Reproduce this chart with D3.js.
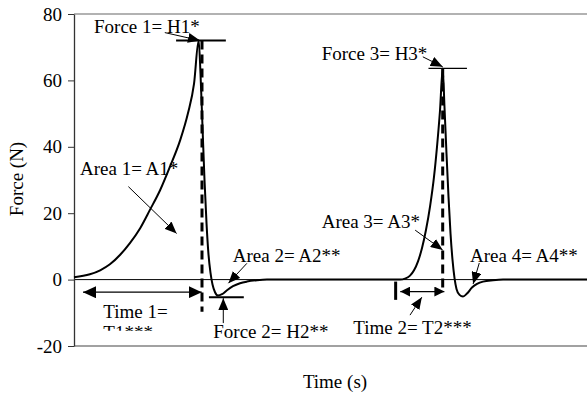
<!DOCTYPE html>
<html lang="en">
<head>
    <meta charset="UTF-8">
    <title>Force - time curve</title>
    <script src="https://d3js.org/d3.v7.min.js"></script>
    <style>
        body { margin: 0; background: #fff; }
        text { font-family: "Liberation Serif", "Times New Roman", serif; font-size: 19px; fill: #000; }
    </style>
</head>
<body>
    <svg width="587" height="393"></svg>

    <script>
        // Force trace (time in s, force in N)
        const traceTime = [
            0, 0.31, 0.51, 0.70, 0.90, 1.09, 1.29, 1.48, 1.68, 1.87, 2.07, 2.22, 2.34, 2.43,
            2.466, 2.505, 2.544, 2.583, 2.622, 2.661, 2.70, 2.749, 2.807, 2.885, 2.982, 3.099,
            3.236, 3.372, 3.567, 3.762,
            6.355, 6.452, 6.55, 6.628, 6.706, 6.784, 6.862, 6.94, 7.018, 7.076, 7.135, 7.187,
            7.222, 7.261, 7.30, 7.339, 7.378, 7.417, 7.456, 7.515, 7.583, 7.661, 7.758, 7.856,
            7.973, 8.168, 8.363, 10
        ];
        const traceForce = [
            0.7, 1.6, 2.8, 4.6, 7.5, 11, 15.5, 21, 27, 34, 42, 50, 59, 72,
            62, 46, 30, 17, 7.5, 2, -1.5, -3.8, -4.8, -4.4, -3.2, -2.0,
            -1.1, -0.6, -0.2, 0,
            0, 0.3, 1.2, 2.8, 5.5, 9.5, 15, 22, 31, 40, 51, 63.6,
            52, 38, 25, 14, 6, 0.5, -2.8, -4.6, -5.1, -4.2, -2.4, -1.3,
            -0.6, -0.2, 0, 0
        ];
        const yTicks = [-20, 0, 20, 40, 60, 80];

        // Annotation texts
        const labelText = [
            "Force 1= H1*", "Area 1= A1*", "Area 2= A2**", "Time 1=", "T1***",
            "Force 2= H2**", "Force 3= H3*", "Area 3= A3*", "Area 4= A4**", "Time 2= T2***"
        ];

        const trace = traceTime.map((t, i) => ({ t: t, f: traceForce[i] }));

        const margin = { top: 14, right: 0, bottom: 47, left: 74 };
        const W = 587, H = 393;
        const width = W - margin.left - margin.right;
        const height = H - margin.top - margin.bottom;

        const svg = d3.select("svg");
        const g = svg.append("g")
            .attr("transform", `translate(${margin.left},${margin.top})`);

        const x = d3.scaleLinear().domain([0, 10]).range([0, width]);
        const y = d3.scaleLinear().domain([-20, 80]).range([height, 0]);

        // arrow heads
        const defs = svg.append("defs");
        function marker(id, len, wid, orient) {
            defs.append("marker")
                .attr("id", id)
                .attr("markerUnits", "userSpaceOnUse")
                .attr("viewBox", `0 0 ${len} ${wid}`)
                .attr("refX", len).attr("refY", wid / 2)
                .attr("markerWidth", len).attr("markerHeight", wid)
                .attr("orient", orient)
                .append("path")
                .attr("d", `M0,0L${len},${wid / 2}L0,${wid}Z`)
                .attr("fill", "#000");
        }
        marker("head", 12, 10, "auto");
        marker("headBig", 13, 12, "auto");
        marker("headBigStart", 13, 12, "auto-start-reverse");
        marker("headSmall", 10, 10, "auto");
        marker("headSmallStart", 10, 10, "auto-start-reverse");

        // frame: top and bottom border
        g.append("line")
            .attr("x1", 0).attr("x2", width)
            .attr("y1", y(80)).attr("y2", y(80))
            .attr("stroke", "#666").attr("stroke-width", 1.2);
        g.append("line")
            .attr("x1", 0).attr("x2", width)
            .attr("y1", y(-20)).attr("y2", y(-20))
            .attr("stroke", "#444").attr("stroke-width", 1.2);

        // zero line
        g.append("line")
            .attr("x1", 0).attr("x2", width)
            .attr("y1", y(0)).attr("y2", y(0))
            .attr("stroke", "#000").attr("stroke-width", 1);

        // y axis
        const yAxis = g.append("g")
            .attr("font-family", "Liberation Serif")
            .attr("font-size", 19)
            .call(d3.axisLeft(y).tickValues(yTicks).tickFormat(d => String(d))
                .tickSize(6).tickSizeOuter(0).tickPadding(6));
        yAxis.attr("font-family", "Liberation Serif").attr("font-size", 19);
        yAxis.select(".domain").attr("stroke", "#333").attr("stroke-width", 1.3);
        yAxis.selectAll(".tick line").attr("stroke", "#333");
        yAxis.selectAll("text")
            .style("font-family", "'Liberation Serif', serif")
            .style("font-size", "19px");

        // axis titles
        svg.append("text")
            .attr("transform", "rotate(-90)")
            .attr("x", -179)
            .attr("y", 23)
            .style("text-anchor", "middle")
            .text("Force (N)");

        svg.append("text")
            .attr("x", 335)
            .attr("y", 388)
            .style("text-anchor", "middle")
            .text("Time (s)");

        // force trace
        const line = d3.line()
            .x(d => x(d.t))
            .y(d => y(d.f))
            .curve(d3.curveMonotoneX);

        g.append("path")
            .datum(trace)
            .attr("d", line)
            .attr("fill", "none")
            .attr("stroke", "#000")
            .attr("stroke-width", 2);

        // helper for straight segments in data units
        function seg(t1, f1, t2, f2, width, extra) {
            const l = g.append("line")
                .attr("x1", x(t1)).attr("y1", y(f1))
                .attr("x2", x(t2)).attr("y2", y(f2))
                .attr("stroke", "#000")
                .attr("stroke-width", width);
            if (extra) extra(l);
            return l;
        }

        // peak / minimum marker lines
        seg(1.99, 72, 2.96, 72, 2);
        seg(2.63, -5.3, 3.31, -5.3, 2);
        seg(6.91, 63.6, 7.66, 63.6, 1.2);

        // dashed verticals at the peaks
        seg(2.495, 72, 2.495, -9.7, 3, l => l.attr("stroke-dasharray", "9,5"));
        seg(7.187, 63.6, 7.187, -3.6, 3, l => l.attr("stroke-dasharray", "9,5"));

        // start mark of time 2
        seg(6.27, -0.6, 6.27, -6.1, 3);

        // time intervals
        seg(0.175, -3.8, 2.49, -3.8, 1.2, l => l
            .attr("marker-start", "url(#headBigStart)")
            .attr("marker-end", "url(#headBig)"));
        seg(6.36, -3.6, 7.22, -3.6, 1.2, l => l
            .attr("marker-start", "url(#headSmallStart)")
            .attr("marker-end", "url(#headSmall)"));

        // label arrows
        const arrow = l => l.attr("marker-end", "url(#head)");
        seg(1.77, 74.4, 2.456, 72, 1, arrow);     // force 1
        seg(1.06, 28, 2.00, 13.9, 1, arrow);      // area 1
        seg(3.37, 4.9, 3.01, -1.1, 1, arrow);     // area 2
        seg(2.91, -13.1, 2.91, -5.6, 1, arrow);   // force 2
        seg(6.80, 67.1, 7.187, 64.1, 1, arrow);   // force 3
        seg(6.65, 14.9, 7.187, 8.9, 1, arrow);    // area 3
        seg(7.90, 5, 7.78, -1.3, 1, arrow);       // area 4
        seg(6.55, -10.7, 6.78, -5.3, 1, arrow);   // time 2

        // labels
        const labelPos = [
            [0.39, 74.3], [0.117, 31.5], [3.094, 5.4], [0.571, -11.7], [0.571, -17.9],
            [2.715, -17.6], [4.828, 66.1], [4.828, 15.5], [7.719, 5.4], [5.444, -16.4]
        ];

        // the second line of "Time 1" is cut off in the original
        defs.append("clipPath").attr("id", "cutT1")
            .append("rect")
            .attr("x", 0).attr("y", 0)
            .attr("width", width).attr("height", y(-15.4));

        labelText.forEach((s, i) => {
            const t = g.append("text")
                .attr("x", x(labelPos[i][0]))
                .attr("y", y(labelPos[i][1]))
                .text(s);
            if (s === "T1***") t.attr("clip-path", "url(#cutT1)");
        });
    </script>
</body>
</html>
